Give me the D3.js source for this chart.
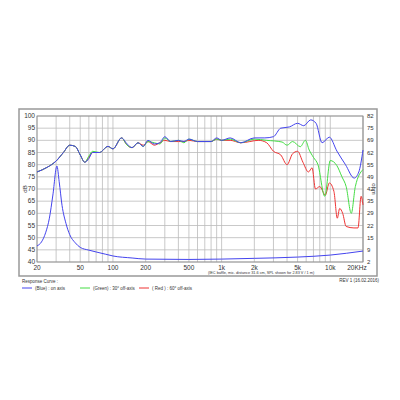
<!DOCTYPE html>
<html><head><meta charset="utf-8">
<script src="https://cdn.jsdelivr.net/npm/d3@7"></script>
<style>body{margin:0;background:#fff}</style>
</head><body><svg id="c" width="400" height="400"></svg>
<script>
// SPL curves [Hz, dB]
var blueSpl = [[20,77],[25,79],[30,81.5],[35,85],[40,88],[45,87.5],[50,84],[55,81],[60,82.5],[65,85],[75,85],[90,87.5],[100,86.5],[120,91],[135,88.5],[150,87],[170,89],[190,87.5],[210,90],[240,88.5],[270,89],[300,91.5],[340,89.5],[400,90],[450,89.5],[500,90.5],[600,89.5],[800,89.5],[900,91],[1000,90],[1200,91],[1500,89],[2000,91],[2500,91],[3000,91.5],[3500,95],[4200,95.5],[5000,97],[5700,96],[6600,98.4],[7400,97],[8400,89],[9800,91.3],[11500,85.6],[13800,80],[16600,74.5],[18300,77],[20000,86]];
var greenSpl = [[20,77],[25,79],[30,81.5],[35,85],[40,88],[45,87.5],[50,84],[55,81],[60,83.5],[65,85.5],[75,85],[90,87.5],[100,86.5],[120,91],[135,88],[150,87],[170,89],[190,87.5],[210,89.5],[240,89],[270,88.5],[300,91],[340,89.5],[400,90],[450,89],[500,90.5],[600,89.5],[800,89.5],[900,90.5],[1000,90],[1200,90.5],[1500,89],[2000,90.5],[2600,90],[3600,89.3],[4000,88],[4500,89.5],[5300,87.4],[5900,90],[6400,86],[7000,83],[7700,80],[8900,67],[10000,81.7],[11500,79.6],[12800,75],[14000,71],[15600,60],[17000,71],[20000,78]];
var redSpl = [[20,77],[25,79],[30,81.5],[35,85],[40,88],[45,87.5],[50,84],[55,81],[60,83],[65,85],[75,85],[90,87.5],[100,86.5],[120,91],[135,88],[150,87],[170,89],[190,88],[210,89.5],[240,88],[270,89],[300,90],[340,89.5],[400,89.5],[450,89.5],[500,90],[600,89.5],[800,89.5],[900,90.5],[1000,90],[1200,90],[1500,89],[2200,90],[2600,89],[3000,85.5],[3500,84],[4000,80],[4500,84.5],[5000,85.5],[5600,81],[6300,77],[6800,78.7],[7300,70],[8000,71],[9000,67.5],[9800,72.5],[10800,69],[11600,58],[12200,62],[13000,60],[14000,54.6],[16500,54],[18000,54],[19200,67],[20000,63.5]];
// impedance [Hz, ohm]
var blueImp = [[20,10.8],[22,13],[24,18],[26,26],[28,38.7],[30.5,54.6],[32,46],[34,33],[37,23],[40,17],[45,12.5],[50,10],[60,8.5],[70,7.5],[85,6.3],[100,5.3],[150,4.2],[200,3.6],[500,3.4],[1000,3.6],[2000,4],[5000,4.7],[10000,5.8],[20000,8]];
var dbTicks = [40,45,50,55,60,65,70,75,80,85,90,95,100];
var ohmTicks = ["82","75","69","62","55","49","42","35","29","22","15","9","2"];
var freqLabels = [[20,"20"],[50,"50"],[100,"100"],[200,"200"],[500,"500"],[1000,"1k"],[2000,"2k"],[5000,"5k"],[10000,"10k"],[20000,"20KHz"]];

var svg = d3.select("#c");
var L = 37, R = 363, T = 116, B = 262;
var x = d3.scaleLog().domain([20,20000]).range([L,R]);
var y = d3.scaleLinear().domain([40,100]).range([B,T]);
var yo = d3.scaleLinear().domain([2,82]).range([B,T]);

svg.append("rect").attr("x",19).attr("y",109).attr("width",358).attr("height",167)
  .attr("fill","#fff").attr("stroke","#999").attr("stroke-width",1.5);

var grid = [];
[10,100,1000,10000].forEach(function(d){ for (var k=1;k<10;k++){ var f=d*k; if(f>=20&&f<=20000) grid.push(f);} });
grid.push(20000);
svg.selectAll(".vg").data(grid).enter().append("line")
  .attr("x1",d=>x(d)).attr("x2",d=>x(d)).attr("y1",T).attr("y2",B)
  .attr("stroke","#bbb").attr("stroke-width",0.8);
svg.selectAll(".hg").data(dbTicks).enter().append("line")
  .attr("x1",L).attr("x2",R).attr("y1",d=>y(d)).attr("y2",d=>y(d))
  .attr("stroke","#bbb").attr("stroke-width",0.8);
svg.append("rect").attr("x",L).attr("y",T).attr("width",R-L).attr("height",B-T)
  .attr("fill","none").attr("stroke","#888").attr("stroke-width",0.8);

var f = "font-family:Arial,'Liberation Sans',sans-serif;fill:#333";
svg.selectAll(".yl").data(dbTicks).enter().append("text")
  .attr("x",L-2).attr("y",d=>y(d)+2).attr("text-anchor","end").attr("font-size",6.5).attr("style",f).text(d=>d);
svg.selectAll(".ol").data(ohmTicks).enter().append("text")
  .attr("x",R+4).attr("y",(d,i)=>yo(82-i*80/12)+2).attr("font-size",6).attr("style",f).text(d=>d);
svg.selectAll(".xl").data(freqLabels).enter().append("text")
  .attr("x",d=>x(d[0])+(d[1]=="20KHz"?-6:0)).attr("y",B+8).attr("text-anchor","middle").attr("font-size",6.5).attr("style",f).text(d=>d[1]);
svg.append("text").attr("transform","translate(27,189) rotate(-90)").attr("text-anchor","middle").attr("font-size",6).attr("style",f).text("dB");
svg.append("text").attr("transform","translate(372,189) rotate(90)").attr("text-anchor","middle").attr("font-size",6).attr("style",f).text("ohm");
svg.append("text").attr("x",208).attr("y",B+12).attr("font-size",3.8).attr("style",f).text("(IEC baffle, mic. distance 31.6 cm, SPL shown for 2.83 V / 1 m)");

var line = d3.line().x(d=>x(d[0])).y(d=>y(d[1])).curve(d3.curveMonotoneX);
var lineO = d3.line().x(d=>x(d[0])).y(d=>yo(d[1])).curve(d3.curveMonotoneX);
svg.append("path").attr("d",line(redSpl)).attr("fill","none").attr("stroke","#e33").attr("stroke-width",1);
svg.append("path").attr("d",line(greenSpl)).attr("fill","none").attr("stroke","#4d4").attr("stroke-width",1);
svg.append("path").attr("d",line(blueSpl)).attr("fill","none").attr("stroke","#44e").attr("stroke-width",1);
svg.append("path").attr("d",lineO(blueImp)).attr("fill","none").attr("stroke","#44e").attr("stroke-width",1);

svg.append("text").attr("x",22).attr("y",283).attr("font-size",4.5).attr("style",f).text("Response Curve :");
var leg = [["#44e","(Blue)  : on axis",22],["#4d4","(Green) : 30° off-axis",80],["#e33","( Red ) : 60° off-axis",139]];
leg.forEach(function(d){
  svg.append("line").attr("x1",d[2]).attr("x2",d[2]+10).attr("y1",288).attr("y2",288).attr("stroke",d[0]);
  svg.append("text").attr("x",d[2]+13).attr("y",289.5).attr("font-size",4.5).attr("style",f).text(d[1]);
});
svg.append("text").attr("x",379).attr("y",282).attr("text-anchor","end").attr("font-size",4.5).attr("style",f).text("REV 1 (16.02.2016)");
</script></body></html>
